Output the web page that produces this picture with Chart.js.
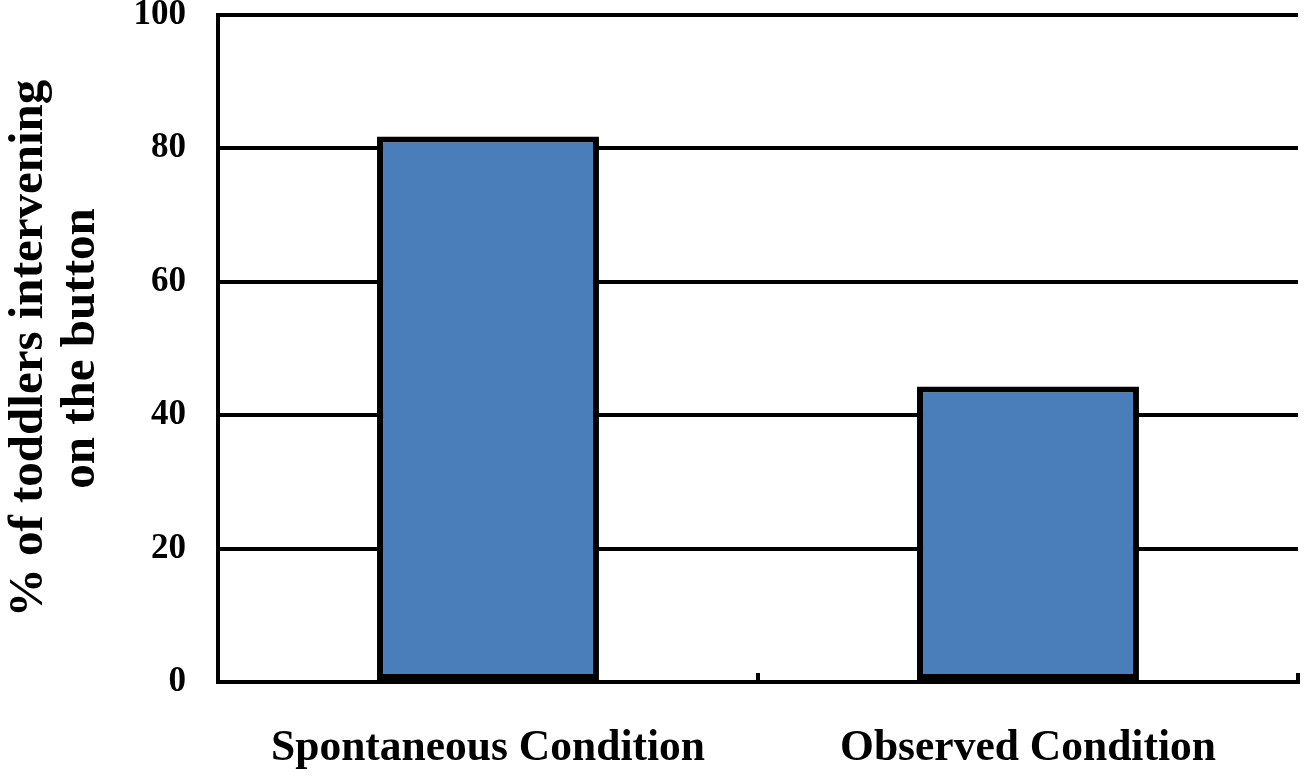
<!DOCTYPE html>
<html>
<head>
<meta charset="utf-8">
<script src="https://cdn.jsdelivr.net/npm/chart.js@4"></script>
<style>
  html, body { margin: 0; padding: 0; background: #fff; }
  #wrap { width: 1307px; height: 778px; }
</style>
</head>
<body>
<div id="wrap"><canvas id="myChart"></canvas></div>
<script>
// data
const conditions = ['Spontaneous Condition', 'Observed Condition'];
const percentIntervening = [81.8, 44.3];
const yTicks = [0, 20, 40, 60, 80, 100];

const font = 'Liberation Serif, Times New Roman, serif';

const data = {
	labels: conditions,
	datasets: [{
		data: percentIntervening,
		backgroundColor: '#4a7ebb',
		borderColor: '#000',
		borderWidth: 6,
		borderSkipped: false,
		barPercentage: 1,
		categoryPercentage: 0.411
	}]
};

const config = {
	type: 'bar',
	data,
	options: {
		responsive: true,
		maintainAspectRatio: false,
		animation: false,
		layout: { padding: { top: 0, right: 9, left: 0, bottom: 0 } },
		plugins: {
			legend: { display: false },
			tooltip: { enabled: false }
		},
		scales: {
			x: {
				offset: true,
				grid: {
					offset: true,
					drawOnChartArea: false,
					drawTicks: true,
					tickLength: -9,
					color: '#000',
					lineWidth: 4
				},
				border: { display: true, color: '#000', width: 4 },
				ticks: {
					color: '#000',
					padding: 50,
					font: { family: font, size: 43.5, weight: 'bold' }
				},
				afterFit: (scale) => { scale.height = 96; }
			},
			y: {
				min: 0,
				max: 100,
				afterBuildTicks: (scale) => {
					scale.ticks = yTicks.map(v => ({ value: v }));
				},
				grid: {
					color: '#000',
					lineWidth: 4,
					drawTicks: false
				},
				border: { display: true, color: '#000', width: 4 },
				ticks: {
					color: '#000',
					padding: 32,
					font: { family: font, size: 35, weight: 'bold' }
				},
				title: {
					display: true,
					text: ['% of toddlers intervening', 'on the button'],
					color: '#000',
					font: { family: font, size: 49, weight: 'bold', lineHeight: 1.07 },
					padding: { top: 3, bottom: 0 }
				},
				afterFit: (scale) => {
					scale.width = 218;
					scale.paddingTop = 15;
				}
			}
		}
	}
};

const myChart = new Chart(document.getElementById('myChart'), config);
</script>
</body>
</html>
